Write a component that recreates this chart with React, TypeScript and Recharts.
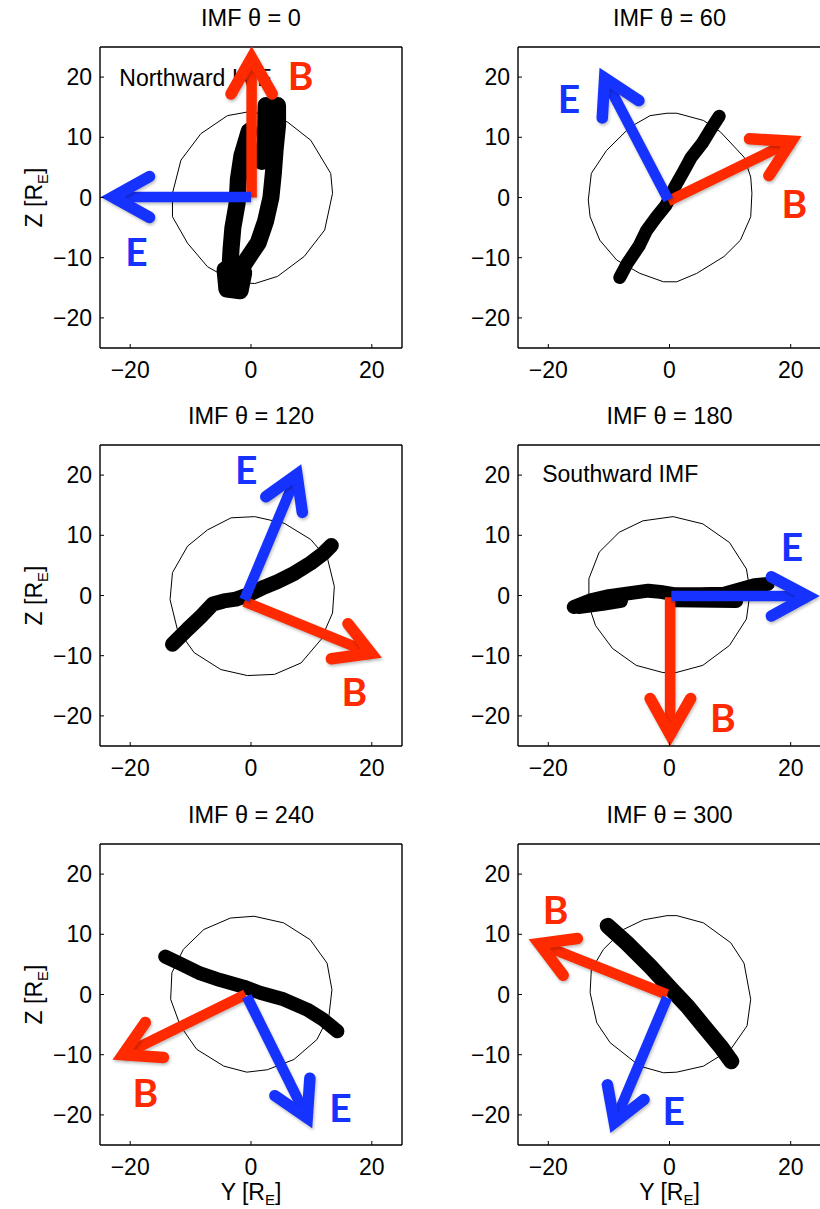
import React from 'react';
import { ScatterChart, Scatter, XAxis, YAxis } from 'recharts';

type Pt = [number, number];

const RED = '#ff2a00';
const BLUE = '#1632ff';
const FONT = '"Liberation Sans", Arial, Helvetica, sans-serif';
const LABEL_FONT = 'Lato, "Open Sans", sans-serif';

const xTicks = [-20, 0, 20];
const yTicks = [-20, -10, 0, 10, 20];
const DOMAIN: [number, number] = [-25, 25];

const titles = ['IMF \u03b8 = 0', 'IMF \u03b8 = 60', 'IMF \u03b8 = 120', 'IMF \u03b8 = 180', 'IMF \u03b8 = 240', 'IMF \u03b8 = 300'];

// ---- magnetopause cross sections ----
const mp0: Pt[] = [[-0.6, 14.2], [3, 13.8], [6.1, 12.5], [9.9, 9.5], [13.2, 4.0], [13.5, 0.7], [12.2, -5.4], [8.8, -9.8], [4.4, -13.1], [0.6, -14.3], [-2.8, -14.0], [-7.2, -11.5], [-10.5, -7.6], [-13.0, -3.2], [-13.0, 0.7], [-11.6, 6.2], [-8.3, 10.6], [-3.9, 13.6], [-0.6, 14.2]];
const mp60: Pt[] = [[-0.4, 14.0], [1.2, 14.0], [5.6, 12.8], [8.4, 10.9], [12.3, 6.7], [13.4, 3.4], [13.6, 0.7], [13.4, -3.2], [11.7, -7.1], [9.0, -9.8], [4.5, -12.6], [1.2, -14.0], [-1.0, -14.0], [-4.9, -12.6], [-8.7, -10.4], [-11.5, -7.1], [-13.1, -3.2], [-13.4, -0.4], [-12.9, 4.0], [-10.4, 7.8], [-6.5, 11.7], [-3.2, 13.6], [-0.4, 14.0]];
const mp120: Pt[] = [[0.6, 13.1], [5.5, 12.0], [9.9, 9.3], [12.7, 6.0], [13.8, 1.5], [13.5, -2.9], [11.6, -7.3], [8.3, -11.2], [3.9, -13.1], [-0.6, -13.3], [-5.0, -12.3], [-9.4, -9.5], [-12.2, -5.6], [-13.4, -0.7], [-13.0, 3.8], [-10.5, 8.2], [-7.2, 10.9], [-3.3, 12.9], [0.6, 13.1]];
const mp180: Pt[] = [[0.6, 13.1], [5.5, 11.9], [9.9, 8.8], [12.7, 4.4], [13.3, 0.6], [12.7, -3.9], [9.9, -8.3], [5.5, -11.6], [1.1, -12.8], [-1.1, -12.8], [-5.5, -11.6], [-9.4, -8.8], [-12.2, -5.0], [-13.3, -1.7], [-13.3, 2.8], [-11.6, 7.2], [-8.3, 10.5], [-4.4, 12.4], [0.6, 13.1]];
const mp240: Pt[] = [[0.5, 13.0], [5.4, 11.9], [9.8, 9.1], [12.6, 5.2], [13.4, 0.8], [12.9, -3.6], [10.9, -7.5], [7.1, -10.8], [2.7, -12.5], [-0.7, -12.9], [-4.5, -11.9], [-9.0, -9.1], [-11.7, -5.2], [-13.3, -0.8], [-13.1, 3.6], [-11.2, 7.5], [-7.8, 10.8], [-3.4, 12.7], [0.5, 13.0]];
const mp300: Pt[] = [[-0.4, 13.1], [1.2, 13.1], [5.6, 11.9], [10.1, 8.6], [12.3, 5.2], [13.4, -0.8], [12.8, -5.2], [10.1, -9.1], [5.6, -11.9], [1.2, -12.9], [-1.0, -13.0], [-4.9, -11.9], [-9.8, -8.0], [-12.0, -4.7], [-13.1, 0.3], [-12.9, 4.1], [-10.9, 7.5], [-7.6, 10.8], [-4.3, 12.4], [-0.4, 13.1]];

// ---- reconnection line bands ----
const band0a: Pt[] = [[4.4, 15.3], [4.4, 12], [4.0, 8], [3.7, 4], [3.3, 0], [2.4, -4], [1.2, -7.5], [-0.8, -10.5], [-2.3, -13]];
const band0b: Pt[] = [[-0.3, 11], [-1.5, 7], [-2.1, 3], [-2.3, -1], [-3, -5], [-3.3, -8.5], [-3.5, -12], [-3.0, -15]];
const band0c: Pt[] = [[-4.3, -12], [-4.0, -15.2], [-1.8, -15.5], [-1.2, -12.5]];
const band0d: Pt[] = [[2.5, 15.3], [2.4, 9.5], [1.8, 6]];
const band60: Pt[] = [[-8.2, -13.3], [-7, -11], [-5, -8], [-3.8, -5.5], [-2.2, -3.3], [-0.6, -1.3], [0.9, 1.8], [2.3, 4.3], [3.6, 6.7], [5.4, 9], [6.8, 11.3], [8.2, 13.5]];
const band120: Pt[] = [[-13.0, -8.1], [-10.5, -5.6], [-8.3, -3.5], [-6.3, -1.4], [-4.5, -0.9], [-2.5, -0.6], [-0.5, 0.1], [2.2, 1.4], [4.4, 2.3], [7.2, 3.7], [9.9, 5.4], [12.0, 7.0], [13.3, 8.3]];
const band180a: Pt[] = [[-15.8, -1.9], [-13, -0.8], [-10, -0.1], [-6.5, 0.4], [-3.5, 0.8], [-1.5, 0.6], [1, 0.2], [5, 0.2], [9, 0.3], [11.5, 1.0], [14, 1.7], [16.2, 1.9]];
const band180b: Pt[] = [[-15, -1.9], [-11, -1.4], [-8, -0.9]];
const band180c: Pt[] = [[1, -0.8], [11, -0.9]];
const band240: Pt[] = [[-14.2, 6.3], [-11.7, 5.1], [-8.4, 3.5], [-5.1, 2.4], [-1.2, 1.3], [1.5, 0.3], [5.4, -0.8], [9.3, -2.5], [12.0, -4.2], [14.3, -6.1]];
const band300: Pt[] = [[-10.2, 11.4], [-7.1, 8.6], [-3.2, 4.7], [0.1, 1.1], [2.9, -1.9], [5.6, -5.2], [8.4, -8.6], [10.2, -11.1]];

// ---- B (red) and E (blue) arrows: shaft and head polylines ----
const bShaft0: Pt[] = [[0.1, 0], [0.1, 23.2]];
const bHead0: Pt[] = [[-3.3, 17.2], [0.1, 23.2], [3.5, 17.2]];
const eShaft0: Pt[] = [[0, 0.1], [-22.9, 0.1]];
const eHead0: Pt[] = [[-16.8, 3.5], [-22.9, 0.1], [-16.8, -3.3]];

const bShaft60: Pt[] = [[-0.2, -0.6], [20.1, 9.35]];
const bHead60: Pt[] = [[13.2, 9.75], [20.1, 9.35], [16.4, 3.65]];
const eShaft60: Pt[] = [[-0.2, -0.4], [-10.7, 19.85]];
const eHead60: Pt[] = [[-11.1, 13.2], [-10.7, 19.85], [-5.05, 16.1]];

const bShaft120: Pt[] = [[-1.1, -1.0], [19.9, -9.6]];
const bHead120: Pt[] = [[16.05, -4.7], [19.9, -9.6], [13.3, -10.5]];
const eShaft120: Pt[] = [[-1.1, -0.7], [7.6, 20.1]];
const eHead120: Pt[] = [[2.45, 16.4], [7.6, 20.1], [8.5, 13.8]];

const bShaft180: Pt[] = [[0.1, -0.3], [0.1, -23.1]];
const bHead180: Pt[] = [[-3.2, -17.1], [0.1, -23.1], [3.5, -17.1]];
const eShaft180: Pt[] = [[0.3, -0.1], [22.8, -0.1]];
const eHead180: Pt[] = [[16.8, 3.1], [22.8, -0.1], [16.8, -3.4]];

const bShaft240: Pt[] = [[-0.9, 0], [-21.2, -10.0]];
const bHead240: Pt[] = [[-17.5, -4.65], [-21.2, -10.0], [-14.5, -10.45]];
const eShaft240: Pt[] = [[-0.7, -0.3], [9.3, -20.5]];
const eHead240: Pt[] = [[3.95, -16.8], [9.3, -20.5], [9.75, -13.9]];

const bShaft300: Pt[] = [[-0.4, 0], [-21.5, 8.45]];
const bHead300: Pt[] = [[-15.2, 9.3], [-21.5, 8.45], [-17.55, 3.2]];
const eShaft300: Pt[] = [[-0.4, -0.55], [-9.1, -21.3]];
const eHead300: Pt[] = [[-10.24, -15.0], [-9.1, -21.3], [-4.2, -17.45]];

// ---- label positions (data units) ----
const bLabels: Pt[] = [[8.2, 20.1], [20.6, -1.0], [17.1, -16.1], [8.8, -20.4], [-17.5, -16.3], [-18.8, 14.1]];
const eLabels: Pt[] = [[-18.95, -9.0], [-16.6, 16.3], [-0.8, 20.9], [20.2, 8.0], [14.8, -18.8], [0.7, -19.3]];
const noteTexts = ['Northward IMF', '', '', 'Southward IMF', '', ''];
const notePos: Pt[] = [[-21.8, 18.6], [0, 0], [0, 0], [-21.0, 18.9], [0, 0], [0, 0]];

const mps = [mp0, mp60, mp120, mp180, mp240, mp300];
const bands: Pt[][][] = [[band0a, band0b, band0c, band0d], [band60], [band120], [band180a, band180b, band180c], [band240], [band300]];
const bandWidths = [17, 13, 15, 14, 14, 16];
const bShafts = [bShaft0, bShaft60, bShaft120, bShaft180, bShaft240, bShaft300];
const bHeads = [bHead0, bHead60, bHead120, bHead180, bHead240, bHead300];
const eShafts = [eShaft0, eShaft60, eShaft120, eShaft180, eShaft240, eShaft300];
const eHeads = [eHead0, eHead60, eHead120, eHead180, eHead240, eHead300];

const toPts = (a: Pt[]) => a.map(([x, y]) => ({ x, y }));
const fmt = (v: number) => (v < 0 ? '\u2212' + Math.abs(v) : String(v));
const noShape = () => <g />;
const SHADOW = { filter: 'drop-shadow(1px 2px 1.5px rgba(0,0,0,0.25))' };

const XTick = (props: any) => {
  const { x, y, payload } = props;
  return (
    <g>
      <line x1={x} x2={x} y1={y} y2={y - 4} stroke="#000" strokeWidth={1} />
      <text x={x} y={y + 30} textAnchor="middle" fontSize={23} fontFamily={FONT} fill="#000">
        {fmt(payload.value)}
      </text>
    </g>
  );
};

const YTick = (props: any) => {
  const { x, y, payload } = props;
  return (
    <g>
      <line x1={x} x2={x + 4} y1={y} y2={y} stroke="#000" strokeWidth={1} />
      <text x={x - 8} y={y + 8} textAnchor="end" fontSize={23} fontFamily={FONT} fill="#000">
        {fmt(payload.value)}
      </text>
    </g>
  );
};

const TitleLabel = (props: any) => {
  const vb = props.viewBox || {};
  return (
    <text x={vb.x + vb.width / 2} y={vb.y - 21} textAnchor="middle" fontSize={23.5} fontFamily={FONT} fill="#000">
      {props.text}
    </text>
  );
};

const XName = (props: any) => {
  const vb = props.viewBox || {};
  return (
    <text x={vb.x + vb.width / 2} y={vb.y + 55} textAnchor="middle" fontSize={23} fontFamily={FONT} fill="#000">
      <tspan>Y [R</tspan>
      <tspan dy={5} fontSize={15}>E</tspan>
      <tspan dy={-5}>]</tspan>
    </text>
  );
};

const YName = (props: any) => {
  const vb = props.viewBox || {};
  const cx = vb.x + vb.width - 58;
  const cy = vb.y + vb.height / 2;
  return (
    <text x={cx} y={cy} transform={`rotate(-90 ${cx} ${cy})`} textAnchor="middle" fontSize={23} fontFamily={FONT} fill="#000">
      <tspan>Z [R</tspan>
      <tspan dy={6} fontSize={15}>E</tspan>
      <tspan dy={-6}>]</tspan>
    </text>
  );
};

const letterShape = (letter: string, color: string) => (p: any) => (
  <text x={p.cx} y={p.cy + 14} textAnchor="middle" fontSize={39} fontWeight={700} fontFamily={LABEL_FONT} fill={color}>
    {letter}
  </text>
);

const noteShape = (txt: string) => (p: any) => (
  <text x={p.cx} y={p.cy} textAnchor="start" fontSize={23} fontFamily={FONT} fill="#000">
    {txt}
  </text>
);

const colLefts = [100, 518];
const colWidths = [302, 303];
const rowTops = [47, 445, 844];
const PLOT = 301;

function Panel({ i }: { i: number }) {
  const col = i % 2;
  const row = Math.floor(i / 2);
  const left = colLefts[col];
  const top = rowTops[row];
  const showX = row === 2;
  const showY = col === 0;
  const mTop = 47;
  const mLeft = 100;
  const mRight = 20;
  const mBottom = showX ? 70 : 60;
  const W = mLeft + colWidths[col] + mRight;
  const H = mTop + PLOT + mBottom;
  const axisLine = { stroke: '#000', strokeWidth: 1.4 };
  return (
    <div style={{ position: 'absolute', left: left - mLeft, top: top - mTop, width: W, height: H }}>
      <ScatterChart width={W} height={H} margin={{ top: mTop, left: mLeft - 1, right: mRight, bottom: mBottom - 1 }}>
        <XAxis
          dataKey="x"
          type="number"
          domain={DOMAIN}
          allowDataOverflow
          ticks={xTicks}
          interval={0}
          height={1}
          tickSize={0}
          tickMargin={0}
          tickLine={false}
          tick={(p: any) => <XTick {...p} />}
          axisLine={axisLine}
          label={showX ? <XName /> : undefined}
        />
        <YAxis
          dataKey="y"
          type="number"
          domain={DOMAIN}
          allowDataOverflow
          ticks={yTicks}
          interval={0}
          width={1}
          tickSize={0}
          tickMargin={0}
          tickLine={false}
          tick={(p: any) => <YTick {...p} />}
          axisLine={axisLine}
          label={showY ? <YName /> : undefined}
        />
        <XAxis
          xAxisId="top"
          orientation="top"
          mirror
          type="number"
          domain={DOMAIN}
          allowDataOverflow
          ticks={xTicks}
          interval={0}
          height={1}
          tickSize={4}
          tick={false}
          tickLine={{ stroke: '#000' }}
          axisLine={axisLine}
          label={<TitleLabel text={titles[i]} />}
        />
        <YAxis
          yAxisId="right"
          orientation="right"
          mirror
          type="number"
          domain={DOMAIN}
          allowDataOverflow
          ticks={yTicks}
          interval={0}
          width={1}
          tickSize={4}
          tick={false}
          tickLine={{ stroke: '#000' }}
          axisLine={axisLine}
        />
        <Scatter data={toPts(mps[i])} fill="#000" line={{ stroke: '#000', strokeWidth: 1 }} shape={noShape} isAnimationActive={false} />
        {bands[i].map((b, k) => (
          <Scatter
            key={'band' + k}
            data={toPts(b)}
            fill="#000"
            line={{ stroke: '#000', strokeWidth: bandWidths[i], strokeLinecap: 'round', strokeLinejoin: 'round' }}
            shape={noShape}
            isAnimationActive={false}
          />
        ))}
        {noteTexts[i] ? (
          <Scatter data={toPts([notePos[i]])} fill="#000" shape={noteShape(noteTexts[i])} isAnimationActive={false} />
        ) : null}
        <Scatter data={toPts(bShafts[i])} fill={RED} line={{ stroke: RED, strokeWidth: 10.5, strokeLinecap: 'butt', style: SHADOW }} shape={noShape} isAnimationActive={false} />
        <Scatter data={toPts(bHeads[i])} fill={RED} line={{ stroke: RED, strokeWidth: 11.5, strokeLinecap: 'round', strokeLinejoin: 'miter', strokeMiterlimit: 10, style: SHADOW }} shape={noShape} isAnimationActive={false} />
        <Scatter data={toPts(eShafts[i])} fill={BLUE} line={{ stroke: BLUE, strokeWidth: 10.5, strokeLinecap: 'butt', style: SHADOW }} shape={noShape} isAnimationActive={false} />
        <Scatter data={toPts(eHeads[i])} fill={BLUE} line={{ stroke: BLUE, strokeWidth: 11.5, strokeLinecap: 'round', strokeLinejoin: 'miter', strokeMiterlimit: 10, style: SHADOW }} shape={noShape} isAnimationActive={false} />
        <Scatter data={toPts([bLabels[i]])} fill={RED} shape={letterShape('B', RED)} isAnimationActive={false} />
        <Scatter data={toPts([eLabels[i]])} fill={BLUE} shape={letterShape('E', BLUE)} isAnimationActive={false} />
      </ScatterChart>
    </div>
  );
}

export default function App() {
  return (
    <div style={{ position: 'absolute', left: 0, top: 0, width: 820, height: 1209, overflow: 'hidden', background: '#fff' }}>
      {[0, 1, 2, 3, 4, 5].map((i) => (
        <Panel key={i} i={i} />
      ))}
    </div>
  );
}
